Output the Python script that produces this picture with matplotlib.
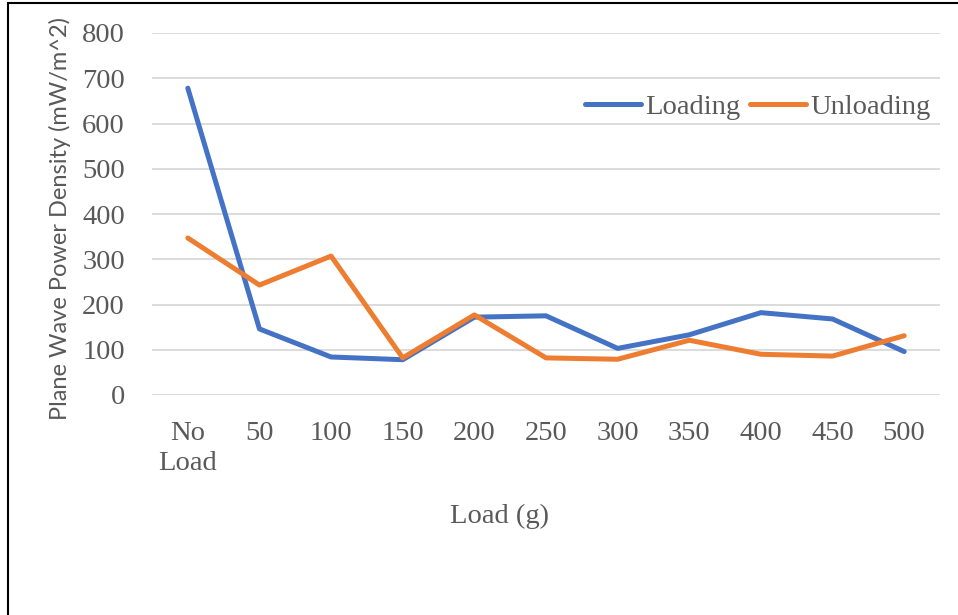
"""Plane wave power density versus load, loading and unloading."""

import matplotlib

matplotlib.use("Agg")

import matplotlib.pyplot as plt
from matplotlib.patches import Rectangle
import numpy as np


loads = ["No\nLoad", "50", "100", "150", "200", "250", "300", "350", "400", "450", "500"]
loading = [678, 146, 84, 78, 172, 175, 103, 133, 182, 168, 96]
unloading = [347, 243, 307, 82, 177, 82, 79, 121, 90, 86, 131]
y_ticks = [0, 100, 200, 300, 400, 500, 600, 700, 800]

TEXT = "#595959"
SERIF = "Liberation Serif"


def main() -> None:
    fig = plt.figure(figsize=(9.58, 6.15), dpi=100)
    ax = fig.add_axes([152 / 958, 1 - 395 / 615, (940 - 152) / 958, (395 - 33) / 615])

    x = np.arange(len(loads))
    ax.plot(x, loading, color="#4472C4", lw=3.6, solid_capstyle="round",
            solid_joinstyle="round", label="Loading", zorder=3)
    ax.plot(x, unloading, color="#ED7D31", lw=3.6, solid_capstyle="round",
            solid_joinstyle="round", label="Unloading", zorder=3)

    ax.set_xlim(-0.5, len(loads) - 0.5)
    ax.set_ylim(0, 800)
    ax.set_yticks(y_ticks)
    ax.set_xticks(x, loads)
    for spine in ax.spines.values():
        spine.set_visible(False)
    ax.grid(axis="y", color="#d9d9d9", lw=1.3)
    ax.set_axisbelow(True)
    ax.tick_params(length=0, labelcolor=TEXT, labelsize=20.5)
    ax.tick_params(axis="y", pad=19.5)
    ax.tick_params(axis="x", pad=18.5)
    for label in ax.get_xticklabels() + ax.get_yticklabels():
        label.set_family(SERIF)
    for label in ax.get_xticklabels():
        label.set_linespacing(1.3)

    ax.set_xlabel("Load (g)", family=SERIF, fontsize=20.5, color=TEXT)
    ax.xaxis.set_label_coords((500 - 152) / 788, -(523 - 395) / 362, transform=None)
    ax.xaxis.label.set_transform(ax.transAxes)
    ax.xaxis.label.set_va("baseline")
    ax.set_ylabel("Plane Wave Power Density (mW/m^2)", family="Lato", fontsize=17,
                  color=TEXT)
    ax.yaxis.set_label_coords(-(152 - 71) / 788, (395 - 219) / 362)

    leg = ax.legend(loc="upper right", bbox_to_anchor=(1.002, 0.862), ncol=2, frameon=False,
                    prop={"family": SERIF, "size": 20.5}, handlelength=1.95,
                    handletextpad=0.15, columnspacing=0.35, borderaxespad=0.0)
    for text in leg.get_texts():
        text.set_color(TEXT)
    for line in leg.get_lines():
        line.set_solid_capstyle("round")

    fig.patches.append(Rectangle((8 / 958, -0.05), 1.1, 1.05 - 3 / 615,
                                 transform=fig.transFigure, fill=False,
                                 edgecolor="black", lw=1.5))

    fig.savefig("out.png", dpi=100)
    plt.close(fig)


if __name__ == "__main__":
    main()
